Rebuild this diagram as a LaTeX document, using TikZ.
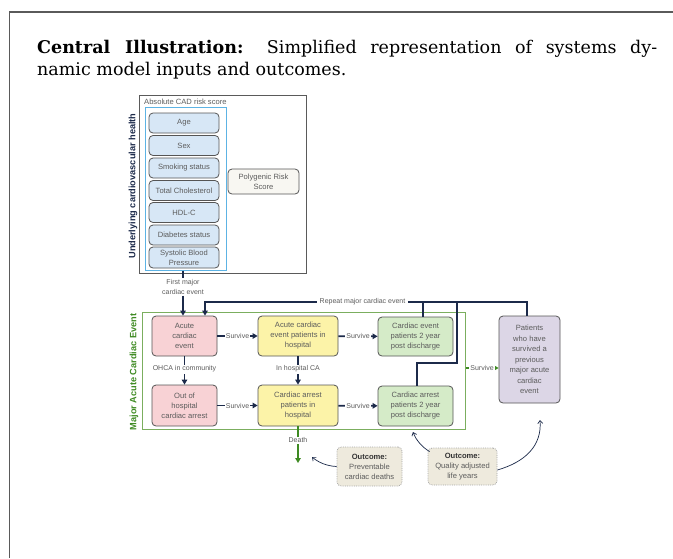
\documentclass[tikz,border=0pt]{standalone}
\usepackage{fontspec}
\setmainfont{DejaVu Serif}
\newfontfamily\diagfont{Liberation Sans}
\usetikzlibrary{arrows.meta}

\definecolor{navy}{HTML}{1C2A4A}
\definecolor{framegray}{HTML}{5A5A5A}
\definecolor{boxgray}{HTML}{555555}
\definecolor{txtgray}{HTML}{5C5C5C}
\definecolor{riskblue}{HTML}{D7E7F6}
\definecolor{edgeblue}{HTML}{5DB3E4}
\definecolor{prsfill}{HTML}{F8F7F2}
\definecolor{pinkfill}{HTML}{F8D2D5}
\definecolor{yellowfill}{HTML}{FCF3A8}
\definecolor{greenfill}{HTML}{D5EBC8}
\definecolor{purplefill}{HTML}{DCD6E6}
\definecolor{macgreen}{HTML}{3E8A22}
\definecolor{framegreen}{HTML}{7BAE5E}
\definecolor{outfill}{HTML}{EEEADD}

\tikzset{
  diagtext/.style={font=\diagfont\fontsize{7.6}{10}\selectfont, text=txtgray},
  smalltext/.style={font=\diagfont\fontsize{7}{9.5}\selectfont, text=txtgray},
  box/.style={diagtext, draw=boxgray, line width=0.8pt, rounded corners=4pt,
    align=center, inner sep=0pt},
  riskbox/.style={box, fill=riskblue, minimum width=70pt, minimum height=20pt},
  pinkbox/.style={box, fill=pinkfill, minimum width=65pt, minimum height=40pt},
  yellowbox/.style={box, fill=yellowfill, minimum width=80pt, minimum height=40pt},
  greenbox/.style={box, fill=greenfill, minimum width=75pt, minimum height=39pt},
  outbox/.style={box, fill=outfill, draw=gray!70, densely dotted, line width=0.8pt},
  navyline/.style={draw=navy, line width=1.8pt},
  navyarrow/.style={navyline, -{Triangle[length=5pt,width=5.5pt]}},
  greenarrow/.style={draw=macgreen, line width=1.8pt, -{Triangle[length=5pt,width=5.5pt]}},
  curvearrow/.style={draw=navy, line width=0.7pt, -{Straight Barb[length=3pt,width=5pt]}},
  onlabel/.style={smalltext, fill=white, inner sep=1.2pt},
  sidelabel/.style={font=\diagfont\bfseries\fontsize{9.2}{10}\selectfont, rotate=90},
}

\begin{document}
\begin{tikzpicture}[x=1pt,y=-1pt]
\useasboundingbox (0,0) rectangle (673,558);

% page frame
\draw[framegray, line width=1.3pt] (9.5,558) -- (9.5,12) -- (673,12);

% caption
\node[anchor=base west, inner sep=0pt, text width=620pt, align=justify,
      font=\fontsize{17.5}{22}\selectfont] (title) at (37,53)
  {\textbf{Central Illustration:} Simplified representation of systems dy-\linebreak namic model inputs and outcomes.};

% ---------- underlying cardiovascular health ----------
\node[draw=framegray, line width=0.8pt, minimum width=167pt, minimum height=178pt,
      inner sep=0pt] (healthBox) at (222.5,184) {};
\node[draw=edgeblue, line width=1pt, minimum width=81pt, minimum height=163pt,
      inner sep=0pt] (cadBox) at (185.5,188.5) {};
\node[diagtext, anchor=west, inner sep=0pt] (cadLbl) at (144,101.5) {Absolute CAD risk score};
\node[sidelabel, text=navy] (healthLbl) at (133,186) {Underlying cardiovascular health};

\node[riskbox] (age)   at (184,123)   {Age};
\node[riskbox] (sex)   at (184,145.5) {Sex};
\node[riskbox] (smoke) at (184,168)   {Smoking status};
\node[riskbox] (chol)  at (184,190.5) {Total Cholesterol};
\node[riskbox] (hdl)   at (184,212.5) {HDL-C};
\node[riskbox] (diab)  at (184,235)   {Diabetes status};
\node[riskbox, minimum height=21pt] (sbp) at (184,257.5) {Systolic Blood\\Pressure};

\node[box, fill=prsfill, minimum width=71pt, minimum height=25pt] (prs) at (263.5,181.5)
  {Polygenic Risk\\Score};

% ---------- major acute cardiac event ----------
\node[draw=framegreen, line width=1pt, minimum width=323pt, minimum height=117pt,
      inner sep=0pt] (macFrame) at (303.5,370.5) {};
\node[sidelabel, text=macgreen] (macLbl) at (134,372) {Major Acute Cardiac Event};

\node[pinkbox] (acute) at (184.5,336) {Acute\\cardiac\\event};
\node[pinkbox, minimum height=41pt] (ohca) at (184.5,405.5) {Out of\\hospital\\cardiac arrest};
\node[yellowbox] (hospEvent) at (298,336) {Acute cardiac\\event patients in\\hospital};
\node[yellowbox, minimum height=41pt] (hospArrest) at (298,405.5) {Cardiac arrest\\patients in\\hospital};
\node[greenbox] (postEvent) at (415.5,336.5) {Cardiac event\\patients 2 year\\post discharge};
\node[greenbox, minimum height=40pt] (postArrest) at (415.5,406) {Cardiac arrest\\patients 2 year\\post discharge};
\node[box, fill=purplefill, minimum width=61pt, minimum height=87pt, font=\diagfont\fontsize{7.6}{10.5}\selectfont]
  (survivors) at (529.5,359.5) {Patients\\who have\\survived a\\previous\\major acute\\cardiac\\event};

% entry from risk factors
\node[smalltext, align=center, inner sep=1pt] (firstLbl) at (183,287) {First major\\cardiac event};
\draw[navyline, line width=1.4pt] (firstLbl.north |- cadBox.south) -- (firstLbl.north);
\draw[navyarrow] (firstLbl.south) -- (firstLbl.south |- acute.north);

% survival transitions
\draw[navyarrow] (acute) -- node[onlabel] {Survive} (hospEvent);
\draw[navyarrow] (hospEvent) -- node[onlabel] {Survive} (postEvent);
\draw[navyarrow] (ohca) -- node[onlabel] {Survive} (hospArrest);
\draw[navyarrow] (hospArrest) -- node[onlabel] {Survive} (postArrest);

% cardiac arrests
\draw[navyarrow] (acute) -- node[onlabel, pos=0.45] {OHCA in community} (ohca);
\draw[navyarrow] (hospEvent) -- node[onlabel, pos=0.45] {In hospital CA} (hospArrest);

% survivors leave the acute phase
\draw[greenarrow] ([yshift=2.5pt]macFrame.east) -- node[onlabel] {Survive}
  ([yshift=2.5pt]macFrame.east -| survivors.west);

% death
\coordinate (deathEnd) at (298,463);
\draw[greenarrow] (hospArrest) -- node[onlabel, pos=0.38] {Death} (deathEnd);

% repeat major cardiac event
\coordinate (repCorner) at (205,302);
\coordinate (jog) at (457,363);
\draw[navyline] ([xshift=7.5pt]postEvent.north) -- ([xshift=7.5pt]postEvent.north |- repCorner);
\draw[navyline] ([xshift=1.5pt]postArrest.north) |- (jog) -- (jog |- repCorner);
\draw[navyarrow] ([xshift=-2.5pt]survivors.north) |- (repCorner) -- (repCorner |- acute.north);
\node[onlabel, inner xsep=3pt] (repLbl) at (362.5,301.5) {Repeat major cardiac event};

% outcomes
\node[outbox, minimum width=65pt, minimum height=39pt] (deathsOut) at (369.5,466.5)
  {\textbf{\color{black!80}Outcome:}\\Preventable\\cardiac deaths};
\node[outbox, minimum width=69pt, minimum height=37pt] (qalyOut) at (462.5,466.5)
  {\textbf{\color{black!80}Outcome:}\\Quality adjusted\\life years};

\coordinate (deathTip) at (312,457);
\coordinate (postTip) at (413,432);
\coordinate (survTip) at (540,420);
\draw[curvearrow] (deathsOut.west) .. controls (326,466) and (318,462) .. (deathTip);
\draw[curvearrow] ([xshift=2pt,yshift=-4pt]qalyOut.north west) .. controls (422,447) and (416,440) .. (postTip);
\draw[curvearrow] ([yshift=-3.5pt]qalyOut.east) .. controls (525,462) and (542,446) .. (survTip);
\end{tikzpicture}
\end{document}
